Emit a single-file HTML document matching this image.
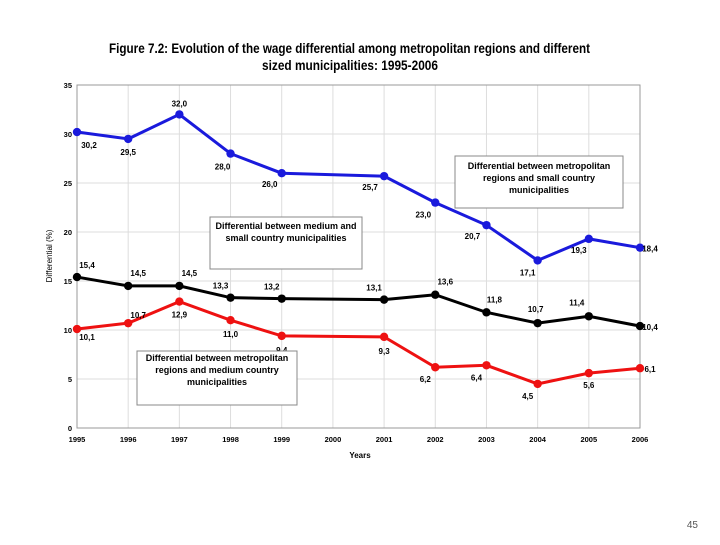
<!DOCTYPE html>
<html><head><meta charset="utf-8"><style>
body{margin:0;background:#fff;width:720px;height:540px;overflow:hidden;font-family:"Liberation Sans",sans-serif}
svg text{font-family:"Liberation Sans",sans-serif}
</style></head><body>
<svg id="chart" width="720" height="540" viewBox="0 0 720 540">
<text x="109" y="53" font-size="13.5" font-weight="bold" textLength="481" lengthAdjust="spacingAndGlyphs">Figure 7.2: Evolution of the wage differential among metropolitan regions and different</text>
<text x="262" y="70" font-size="13.5" font-weight="bold" textLength="176" lengthAdjust="spacingAndGlyphs">sized municipalities: 1995-2006</text>
<g id="grid"></g><g id="axes"></g><g id="series"></g>
<text x="360" y="458" text-anchor="middle" font-size="8" font-weight="bold">Years</text>
<text transform="translate(52,256) rotate(-90)" text-anchor="middle" font-size="8">Differential (%)</text>
<g><rect x="455" y="156" width="168" height="52" fill="#fff" stroke="#888"/><text x="539" y="169" text-anchor="middle" font-size="9" font-weight="bold">Differential between metropolitan</text><text x="539" y="181" text-anchor="middle" font-size="9" font-weight="bold">regions and small country</text><text x="539" y="193" text-anchor="middle" font-size="9" font-weight="bold">municipalities</text></g>
<g><rect x="210" y="217" width="152" height="52" fill="#fff" stroke="#888"/><text x="286" y="229" text-anchor="middle" font-size="9" font-weight="bold">Differential between medium and</text><text x="286" y="241" text-anchor="middle" font-size="9" font-weight="bold">small country municipalities</text></g>
<g><rect x="137" y="351" width="160" height="54" fill="#fff" stroke="#888"/><text x="217" y="361" text-anchor="middle" font-size="9" font-weight="bold">Differential between metropolitan</text><text x="217" y="373" text-anchor="middle" font-size="9" font-weight="bold">regions and medium country</text><text x="217" y="385" text-anchor="middle" font-size="9" font-weight="bold">municipalities</text></g>
<text x="698" y="528" text-anchor="end" font-size="10" fill="#555">45</text>
</svg>
<script>
const years=[1995,1996,1997,1998,1999,2000,2001,2002,2003,2004,2005,2006];
const yTicks=[0,5,10,15,20,25,30,35];
const blueVals=[30.2,29.5,32.0,28.0,26.0,null,25.7,23.0,20.7,17.1,19.3,18.4];
const blackVals=[15.4,14.5,14.5,13.3,13.2,null,13.1,13.6,11.8,10.7,11.4,10.4];
const redVals=[10.1,10.7,12.9,11.0,9.4,null,9.3,6.2,6.4,4.5,5.6,6.1];
const blueLabels=["30,2","29,5","32,0","28,0","26,0","","25,7","23,0","20,7","17,1","19,3","18,4"];
const blackLabels=["15,4","14,5","14,5","13,3","13,2","","13,1","13,6","11,8","10,7","11,4","10,4"];
const redLabels=["10,1","10,7","12,9","11,0","9,4","","9,3","6,2","6,4","4,5","5,6","6,1"];
const L=77,R=640,T=85,B=428;
const xs=y=>L+(y-1995)*(R-L)/11, ys=v=>B-v*(B-T)/35;
const NS="http://www.w3.org/2000/svg";
function mk(t,a,p){const e=document.createElementNS(NS,t);for(const k in a)e.setAttribute(k,a[k]);p.appendChild(e);return e;}
const grid=document.getElementById('grid'),axes=document.getElementById('axes'),ser=document.getElementById('series');
mk('rect',{x:L,y:T,width:R-L,height:B-T,fill:'#fff',stroke:'#999'},grid);
yTicks.forEach(v=>{const g=mk('line',{x1:L,x2:R,y1:ys(v),y2:ys(v),stroke:'#ddd'},grid);

const t=mk('text',{x:L-5,y:ys(v)+3,'text-anchor':'end','font-size':7.5,'font-weight':'bold'},axes);t.textContent=v;
});
years.forEach(y=>{const g=mk('line',{x1:xs(y),x2:xs(y),y1:T,y2:B,stroke:'#ddd'},grid);

const t=mk('text',{x:xs(y),y:B+14,'text-anchor':'middle','font-size':7.5,'font-weight':'bold'},axes);t.textContent=y;
});
mk('rect',{x:L,y:T,width:R-L,height:B-T,fill:'none',stroke:'#999'},axes);
const bOff=[[12,16],[0,16],[0,-8],[-8,16],[-12,14],null,[-14,14],[-12,15],[-14,14],[-10,15],[-10,14],[10,4]];
const kOff=[[10,-9],[10,-10],[10,-10],[-10,-9],[-10,-9],null,[-10,-9],[10,-10],[8,-10],[-2,-11],[-12,-11],[10,4]];
const rOff=[[10,11],[10,-5],[0,16],[0,17],[0,17],null,[0,17],[-10,15],[-10,15],[-10,15],[0,15],[10,4]];
function series(vals,labs,off,col,name){
 let d='';vals.forEach((v,i)=>{if(v==null)return;d+=(d?'L':'M')+xs(years[i])+','+ys(v);});
 const p=mk('path',{d:d,fill:'none',stroke:col,'stroke-width':3},ser);
 
 vals.forEach((v,i)=>{if(v==null)return;
  const c=mk('circle',{cx:xs(years[i]),cy:ys(v),r:4.2,fill:col},ser);
  
  const t=mk('text',{x:xs(years[i])+off[i][0],y:ys(v)+off[i][1],'text-anchor':'middle','font-size':8,'font-weight':'bold'},ser);
  t.textContent=labs[i];});
}
series(blueVals,blueLabels,bOff,'#1a1adc','metro-small');
series(blackVals,blackLabels,kOff,'#000','medium-small');
series(redVals,redLabels,rOff,'#ee1111','metro-medium');
</script>
</body></html>
